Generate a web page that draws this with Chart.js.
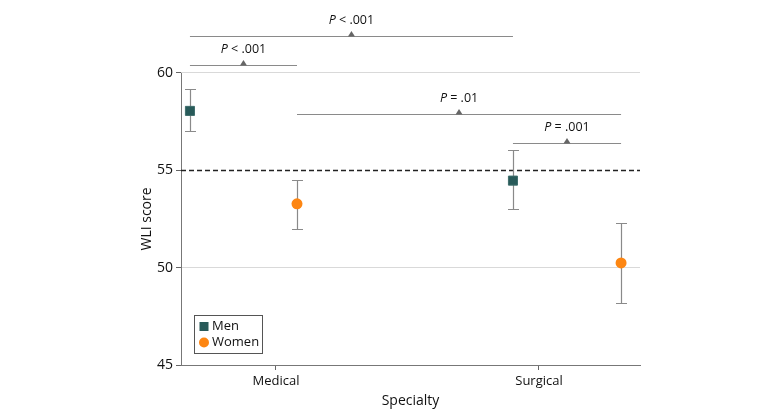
<!DOCTYPE html>
<html>
<head>
<meta charset="utf-8">
<script src="https://cdn.jsdelivr.net/npm/chart.js@4/dist/chart.umd.min.js"></script>
<style>
html,body{margin:0;padding:0;background:#fff;}
#wrap{width:780px;height:418px;position:relative;}
</style>
</head>
<body>
<div id="wrap"><canvas id="c" width="780" height="418"></canvas></div>
<script>
// ---- data ----
const categories = ['Medical', 'Surgical'];
const groups = ['Men', 'Women'];
const menMean = [58.05, 54.47];
const menLower = [57.0, 53.0];
const menUpper = [59.15, 56.02];
const womenMean = [53.28, 50.24];
const womenLower = [52.0, 48.2];
const womenUpper = [54.52, 52.28];
const yTicks = [45, 50, 55, 60];
const referenceValue = 55;
const compLabels = ['< .001', '< .001', '= .01', '= .001'];
const compFrom = [['Men', 0], ['Men', 0], ['Women', 0], ['Men', 1]];
const compTo = [['Men', 1], ['Women', 0], ['Women', 1], ['Women', 1]];
const compLevels = [61.9, 60.4, 57.9, 56.4];
const yTitle = 'WLI score';
const xTitle = 'Specialty';

// ---- layout (dodge of each group within each category) ----
const dodge = { Men: [-0.327, -0.099], Women: [0.080, 0.312] };
const colors = { Men: '#285a59', Women: '#fd8612' };
const FONT = 'Open Sans';

const series = {
  Men: { mean: menMean, lo: menLower, hi: menUpper },
  Women: { mean: womenMean, lo: womenLower, hi: womenUpper }
};

function pointXY(g, i) {
  return { x: i + dodge[g][i], y: series[g].mean[i] };
}

const datasets = groups.map(g => ({
  label: g,
  data: categories.map((c, i) => pointXY(g, i)),
  backgroundColor: colors[g],
  borderColor: g === 'Men' ? '#3f6e6c' : colors[g],
  borderWidth: g === 'Men' ? 1 : 0,
  pointStyle: g === 'Men' ? 'rect' : 'circle',
  pointRadius: g === 'Men' ? 6.4 : 5.5,
  pointHoverRadius: g === 'Men' ? 6.4 : 5.5
}));

const deco = {
  id: 'deco',
  beforeDatasetsDraw(chart) {
    const ctx = chart.ctx, xs = chart.scales.x, ys = chart.scales.y, a = chart.chartArea;
    ctx.save();
    ctx.strokeStyle = '#777';
    ctx.lineWidth = 1;
    ctx.beginPath();
    const ax = Math.round(a.left) + 0.5;
    ctx.moveTo(ax, ys.getPixelForValue(yTicks[yTicks.length - 1]));
    ctx.lineTo(ax, ys.getPixelForValue(yTicks[0]));
    ctx.stroke();
    const ry = Math.round(ys.getPixelForValue(referenceValue)) + 0.5;
    ctx.strokeStyle = '#222';
    ctx.setLineDash([5, 3]);
    ctx.lineWidth = 1.3;
    ctx.beginPath();
    ctx.moveTo(a.left, ry);
    ctx.lineTo(a.right, ry);
    ctx.stroke();
    ctx.setLineDash([]);
    ctx.strokeStyle = '#8a8a8a';
    ctx.lineWidth = 1.2;
    groups.forEach(g => {
      categories.forEach((c, i) => {
        const p = pointXY(g, i);
        const px = Math.round(xs.getPixelForValue(p.x)) + 0.5;
        const top = Math.round(ys.getPixelForValue(series[g].hi[i])) + 0.5;
        const bot = Math.round(ys.getPixelForValue(series[g].lo[i])) + 0.5;
        ctx.beginPath();
        ctx.moveTo(px, top); ctx.lineTo(px, bot);
        ctx.moveTo(px - 5.5, top); ctx.lineTo(px + 5.5, top);
        ctx.moveTo(px - 5.5, bot); ctx.lineTo(px + 5.5, bot);
        ctx.stroke();
      });
    });
    compLabels.forEach((lab, k) => {
      const p1 = pointXY(compFrom[k][0], compFrom[k][1]);
      const p2 = pointXY(compTo[k][0], compTo[k][1]);
      const x1 = xs.getPixelForValue(p1.x), x2 = xs.getPixelForValue(p2.x);
      const y = Math.round(ys.getPixelForValue(compLevels[k])) + 0.5;
      ctx.strokeStyle = '#8a8a8a';
      ctx.lineWidth = 1.2;
      ctx.beginPath();
      ctx.moveTo(x1, y); ctx.lineTo(x2, y);
      ctx.stroke();
      const mx = (x1 + x2) / 2;
      ctx.fillStyle = '#666';
      ctx.beginPath();
      ctx.moveTo(mx - 3.5, y);
      ctx.lineTo(mx + 3.5, y);
      ctx.lineTo(mx, y - 5.5);
      ctx.closePath();
      ctx.fill();
      ctx.fillStyle = '#111';
      ctx.textBaseline = 'middle';
      const fI = 'italic 12.5px ' + FONT, fN = '12.5px ' + FONT;
      ctx.font = fI; const wP = ctx.measureText('P').width;
      ctx.font = fN; const rest = ' ' + lab; const wR = ctx.measureText(rest).width;
      const sx = mx - (wP + wR) / 2, ty = y - 16;
      ctx.textAlign = 'left';
      ctx.font = fI; ctx.fillText('P', sx, ty);
      ctx.font = fN; ctx.fillText(rest, sx + wP, ty);
    });
    ctx.restore();
  },
  afterDraw(chart) {
    const ctx = chart.ctx, ys = chart.scales.y, a = chart.chartArea;
    ctx.save();
    ctx.fillStyle = '#111';
    ctx.font = '14px ' + FONT;
    ctx.textAlign = 'center';
    ctx.textBaseline = 'middle';
    ctx.fillText(xTitle, (a.left + a.right) / 2, 401);
    const yc = (ys.getPixelForValue(yTicks[0]) + ys.getPixelForValue(yTicks[yTicks.length - 1])) / 2;
    ctx.translate(147, yc);
    ctx.rotate(-Math.PI / 2);
    ctx.fillText(yTitle, 0, 0);
    ctx.restore();
    ctx.save();
    const lx = a.left + 13, ly = 315, lw = 68, lh = 38;
    ctx.fillStyle = '#fff';
    ctx.fillRect(lx, ly, lw, lh);
    ctx.strokeStyle = '#555';
    ctx.lineWidth = 1;
    ctx.strokeRect(lx + 0.5, ly + 0.5, lw, lh);
    ctx.font = '13px ' + FONT;
    ctx.textAlign = 'left';
    ctx.textBaseline = 'middle';
    groups.forEach((g, k) => {
      const cy = ly + 11.5 + k * 16;
      const cx = lx + 10;
      ctx.fillStyle = colors[g];
      if (g === 'Men') {
        ctx.fillRect(cx - 4.5, cy - 4.5, 9, 9);
      } else {
        ctx.beginPath(); ctx.arc(cx, cy, 5, 0, Math.PI * 2); ctx.fill();
      }
      ctx.fillStyle = '#111';
      ctx.fillText(g, cx + 8, cy);
    });
    ctx.restore();
  }
};

Chart.defaults.font.family = FONT;
Chart.defaults.color = '#111';

new Chart(document.getElementById('c'), {
  type: 'scatter',
  data: { datasets },
  options: {
    responsive: false,
    animation: false,
    events: [],
    layout: { padding: { left: 0, right: 140, top: 0, bottom: 0 } },
    plugins: { legend: { display: false }, tooltip: { enabled: false } },
    scales: {
      x: {
        type: 'linear',
        min: -0.361,
        max: 1.384,
        afterBuildTicks: s => { s.ticks = categories.map((c, i) => ({ value: i })); },
        afterFit: s => { s.height = 53; },
        ticks: { callback: v => categories[v], font: { size: 13 }, padding: 3, maxRotation: 0, autoSkip: false },
        grid: { drawOnChartArea: false, drawTicks: true, tickLength: 5, tickColor: '#666', color: '#666' },
        border: { display: true, color: '#777', width: 1 }
      },
      y: {
        min: 45,
        max: 63.16,
        afterBuildTicks: s => { s.ticks = yTicks.map(v => ({ value: v })); },
        afterFit: s => { s.width = 181; },
        ticks: { font: { size: 14 }, padding: 3 },
        grid: {
          color: c => (c.tick && c.tick.value === referenceValue) ? 'rgba(0,0,0,0)' : '#d9d9d9',
          tickColor: '#666',
          tickLength: 5,
          lineWidth: 1
        },
        border: { display: false }
      }
    }
  },
  plugins: [deco]
});
</script>
</body>
</html>
